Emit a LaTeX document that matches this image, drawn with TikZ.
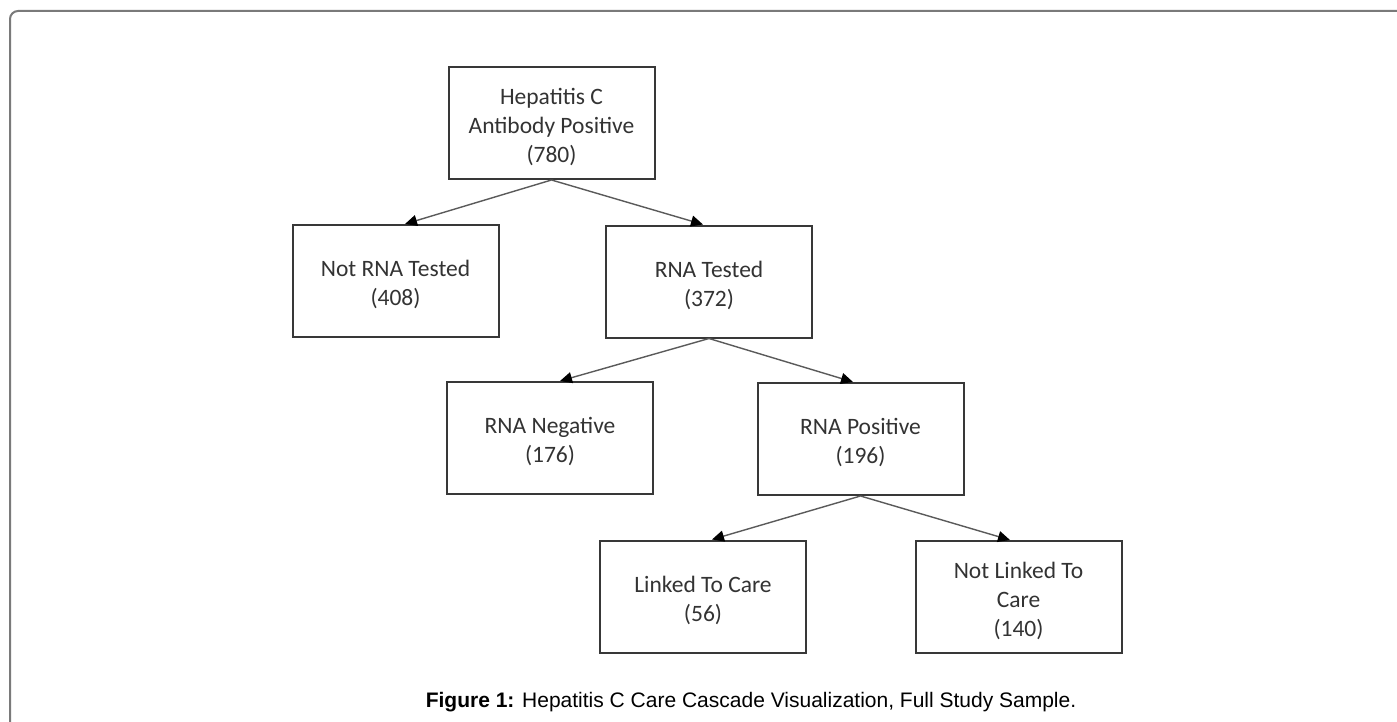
\documentclass[tikz,border=0pt]{standalone}
\usepackage{fontspec}
\setmainfont{Carlito}
\newfontfamily\capfont{Liberation Sans}
\usetikzlibrary{arrows.meta}
\definecolor{boxline}{HTML}{383838}
\definecolor{conline}{HTML}{5A5A5A}
\definecolor{txt}{HTML}{333333}
\definecolor{frame}{HTML}{7A7A7A}
\newcommand{\tp}{\rule{0pt}{24pt}}
\tikzset{
  stagebox/.style={draw=boxline, line width=2pt, rectangle, minimum width=206pt, minimum height=112pt,
    align=center, text=txt, font=\fontsize{23.5}{29}\selectfont, inner sep=0pt},
  conn/.style={draw=conline, line width=1.4pt, -{Triangle[length=12pt,width=11pt,fill=black,color=black]}},
}
\begin{document}
\begin{tikzpicture}[x=1pt,y=-1pt]
\useasboundingbox (0,0) rectangle (1397,722);
\fill[white] (0,0) rectangle (1397,722);
\draw[frame, line width=2pt, rounded corners=8pt] (10,722) -- (10,11) -- (1397,11);

\node[stagebox] (top) at (551.5,123) {\tp Hepatitis C\\Antibody Positive\\(780)};
\node[stagebox] (notrna) at (395.5,281) {\tp Not RNA Tested\\(408)};
\node[stagebox] (rnat) at (709,281.5) {\tp RNA Tested\\(372)};
\node[stagebox] (rneg) at (550,438) {\tp RNA Negative\\(176)};
\node[stagebox] (rpos) at (860.5,439) {\tp RNA Positive\\(196)};
\node[stagebox] (linked) at (703,596.5) {\tp Linked To Care\\(56)};
\node[stagebox] (notlinked) at (1018.5,597) {\tp Not Linked To\\Care\\(140)};

\draw[conn] (top.south) -- ([xshift=9.5pt]notrna.north);
\draw[conn] (top.south) -- ([xshift=-6pt]rnat.north);
\draw[conn] (rnat.south) -- ([xshift=10pt]rneg.north);
\draw[conn] (rnat.south) -- ([xshift=-7.5pt]rpos.north);
\draw[conn] (rpos.south) -- ([xshift=9pt]linked.north);
\draw[conn] (rpos.south) -- ([xshift=-8.5pt]notlinked.north);

\node[font=\capfont\fontsize{21}{24}\selectfont, text=black, inner sep=0pt] (cap) at (751,702)
  {\textbf{Figure 1:} Hepatitis C Care Cascade Visualization, Full Study Sample.};
\end{tikzpicture}
\end{document}
